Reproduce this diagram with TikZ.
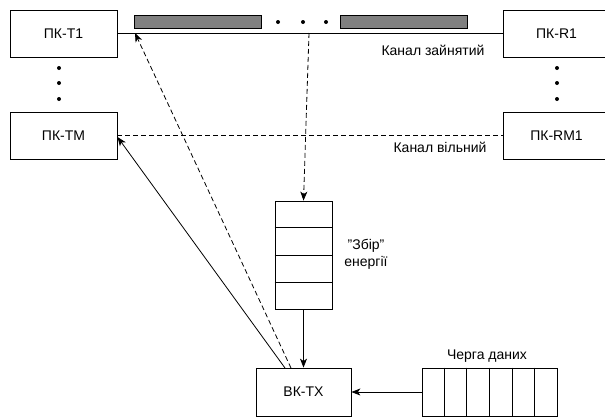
\documentclass[tikz,border=0pt]{standalone}
\usepackage{fontspec}
\setmainfont{Liberation Sans}
\usetikzlibrary{arrows.meta,calc}
\begin{document}
\begin{tikzpicture}[x=1pt,y=-1pt,
  box/.style={draw,line width=0.8pt,minimum width=107pt,minimum height=47pt,inner sep=0pt,font=\fontsize{14}{16}\selectfont},
  lbl/.style={inner sep=0pt,font=\fontsize{14}{16}\selectfont},
  bar/.style={draw,line width=0.8pt,fill=black!50,minimum width=127pt,minimum height=13pt,inner sep=0pt},
  conn/.style={line width=0.8pt},
  dsh/.style={line width=0.8pt,dash pattern=on 5pt off 3pt},
  tip/.style={-{Stealth[length=9pt,width=7pt,inset=2.5pt]}},
  dotc/.style={fill=black,circle,inner sep=0pt,minimum size=4pt}
]
\useasboundingbox (0,0) rectangle (605,416);
% boxes
\node[box] (t1) at (63.5,33.5) {ПК-T1};
\node[box] (tm) at (63.5,135.5) {ПК-TM};
\node[box] (r1) at (556.5,33.5) {ПК-R1};
\node[box] (rm1) at (556.5,135.5) {ПК-RM1};
\node[box,minimum width=95pt,minimum height=48pt] (tx) at (303.5,392) {ВК-TX};
\node[draw,line width=0.8pt,minimum width=57pt,minimum height=108pt,inner sep=0pt] (store) at (303.5,255) {};
\node[draw,line width=0.8pt,minimum width=135pt,minimum height=48pt,inner sep=0pt] (queue) at (489.5,392) {};
% storage cells
\foreach \f in {0.25,0.5,0.75}
  \draw[line width=0.8pt] ($(store.north west)!\f!(store.south west)$) -- ($(store.north east)!\f!(store.south east)$);
% queue cells
\foreach \f in {1,2,3,4,5}
  \draw[line width=0.8pt] ($(queue.north west)!\f/6!(queue.north east)$) -- ($(queue.south west)!\f/6!(queue.south east)$);
% bars
\node[bar] (b1) at (197.5,21.5) {};
\node[bar] (b2) at (403.5,21.5) {};
% dots
\node[dotc] (d1) at (278,22) {};
\node[dotc] (d2) at (303,22) {};
\node[dotc] (d3) at (326,22) {};
\node[dotc] (l1) at (59,68) {};
\node[dotc] (l2) at (59,83) {};
\node[dotc] (l3) at (59,99) {};
\node[dotc] (q1) at (557,68) {};
\node[dotc] (q2) at (557,83) {};
\node[dotc] (q3) at (557,99) {};
% channels
\draw[conn] (t1.east) -- (r1.west);
\draw[dsh] (tm.east) -- (rm1.west);
\coordinate (c1) at (309,33);
\coordinate (c2) at (135,33);
\coordinate (m1) at (117.5,137);
\coordinate (s1) at (285,368);
\coordinate (s2) at (291,368);
\draw[dsh,tip] (c1) -- (store.north);
\draw[conn,tip] (store.south) -- (tx.north);
\draw[conn,tip] (queue.west) -- (tx.east);
\draw[conn,tip] (s1) -- (m1);
\draw[dsh,tip] (s2) -- (c2);
% labels
\node[lbl] (lz) at (433,50) {Канал зайнятий};
\node[lbl] (lv) at (440,147) {Канал вільний};
\node[lbl,align=center] (le) at (366,254) {\symbol{34}Збір\symbol{34}\\[1pt]енергії};
\node[lbl] (lq) at (487,356) {Черга даних};
\end{tikzpicture}
\end{document}
